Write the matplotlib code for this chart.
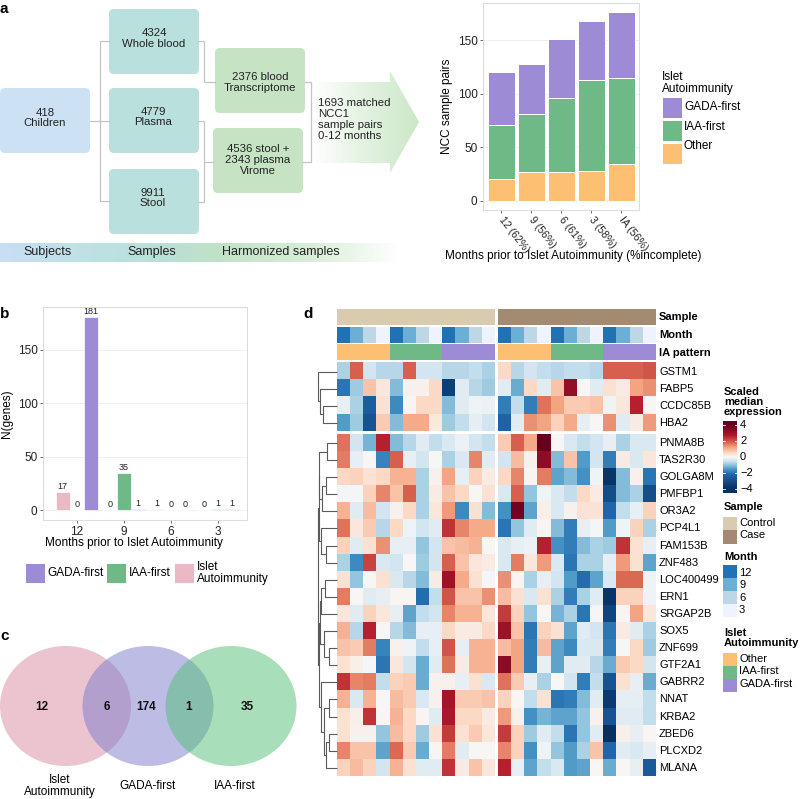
import numpy as np
import matplotlib
matplotlib.use("Agg")
import matplotlib.pyplot as plt
from matplotlib.patches import FancyBboxPatch, Polygon, Ellipse, Rectangle
from matplotlib.colors import LinearSegmentedColormap, Normalize, to_rgb

plt.rcParams["font.family"] = ["Liberation Sans", "DejaVu Sans"]

FW, FH = 800, 799

C_GADA = "#9d8bd5"
C_IAA = "#6fb987"
C_OTHER = "#fdbf72"
C_IA = "#eab9c5"

# ---------------- data ----------------
# panel a, flow chart
flow_children = "418\nChildren"
flow_samples = ["4324\nWhole blood", "4779\nPlasma", "9911\nStool"]
flow_harmonized = ["2376 blood\nTranscriptome", "4536 stool +\n2343 plasma\nVirome"]
flow_matched = "1693 matched\nNCC1\nsample pairs\n0-12 months"
flow_stages = ["Subjects", "Samples", "Harmonized samples"]

# panel a, stacked bars
a_months = ["12 (62%)", "9 (56%)", "6 (61%)", "3 (58%)", "IA (56%)"]
a_other = [20, 27, 27, 28, 34]
a_iaa = [51, 54, 69, 85, 81]
a_gada = [49, 47, 55, 55, 61]

# panel b
b_months = ["12", "9", "6", "3"]
b_ia = [17, 0, 1, 0]
b_iaa = [0, 35, 0, 1]
b_gada = [181, 1, 0, 1]

# panel c (IA only, IA&GADA, GADA only, GADA&IAA, IAA only)
venn_sets = ["Islet\nAutoimmunity", "GADA-first", "IAA-first"]
venn_counts = [12, 6, 174, 1, 35]

# panel d
genes = ["GSTM1", "FABP5", "CCDC85B", "HBA2", "PNMA8B", "TAS2R30", "GOLGA8M",
         "PMFBP1", "OR3A2", "PCP4L1", "FAM153B", "ZNF483", "LOC400499", "ERN1",
         "SRGAP2B", "SOX5", "ZNF699", "GTF2A1", "GABRR2", "NNAT", "KRBA2",
         "ZBED6", "PLCXD2", "MLANA"]
expr_control = [
    [-0.8, 1.9, -0.5, -0.7, -0.7, 1.9, -0.5, -0.5, -0.7, -0.7, -0.6, -0.8],
    [-2.0, -0.9, 0.8, 0.3, -1.1, 0.1, 0.1, 0.5, -3.5, -0.3, -0.7, -0.9],
    [-0.2, -0.8, -2.5, 0.4, -1.7, 0.05, 0.5, 0.5, -1.1, -0.3, -0.1, -0.15],
    [-1.5, -0.9, -2.8, 0.7, -1.1, 1.1, 1.1, 0.25, -0.9, -0.6, -0.25, -0.5],
    [1.7, -0.5, -1.2, 2.6, -1.1, -0.7, -0.3, -0.6, -0.4, -0.15, -0.5, -0.6],
    [1.6, -0.2, 0.0, -1.8, 1.9, -0.2, -0.5, 0.0, -0.8, -0.4, 1.5, -0.3],
    [0.5, 0.6, 0.35, 0.5, 1.0, 1.0, -0.8, 0.1, 1.2, -0.2, 0.6, 0.2],
    [-0.05, -0.05, 0.6, 1.5, 0.8, 1.9, -0.8, 0.2, 0.8, 0.5, 0.0, 0.4],
    [1.0, -0.3, 0.9, -0.5, 0.1, 0.5, -0.8, 0.3, 1.3, -1.7, 0.4, -1.1],
    [1.7, 0.3, 0.7, -0.7, 0.5, -0.1, -0.5, -0.3, 2.4, 1.5, 1.1, 1.1],
    [0.6, -0.3, 0.4, 1.4, -0.2, -0.2, -1.0, -0.5, 0.8, 0.9, 1.0, 0.0],
    [-0.8, -1.7, 2.2, -0.4, -0.5, 0.0, -0.9, -0.5, 1.9, 0.8, 0.3, 0.2],
    [0.4, -1.0, 0.0, 0.4, -0.4, -0.7, -1.1, 0.2, 3.0, 1.1, 0.4, -0.05],
    [1.6, 0.0, -0.3, -0.2, 0.05, 0.05, -2.1, -0.6, 2.0, 0.8, 0.8, 1.4],
    [0.3, -0.3, 0.6, 0.3, -0.2, -1.4, -0.6, -0.5, 1.5, 1.0, 1.0, 0.3],
    [1.0, -0.7, 2.6, 0.0, -0.7, -1.1, -0.2, -0.2, 0.5, 0.2, 0.2, 0.5],
    [0.8, 0.7, 1.6, -1.8, 0.1, -0.1, -0.6, -0.2, 2.0, -0.2, 1.0, 1.0],
    [0.4, 0.15, -0.05, -2.0, 0.3, -0.5, -1.3, -0.3, 1.7, 0.2, 1.0, 1.0],
    [2.4, 1.5, 1.6, -0.6, 0.6, 0.7, -1.3, 0.1, 0.1, -0.2, 0.4, -0.4],
    [1.0, -0.4, 1.0, 0.0, 0.9, 0.7, -0.4, 0.1, 2.9, 0.7, 0.7, 0.8],
    [0.4, 0.15, 2.4, 0.0, 1.0, 0.5, 0.05, -0.3, 2.8, 0.5, 0.5, 0.2],
    [0.4, 0.1, 0.1, -1.0, 0.9, 0.5, -0.9, 0.4, 2.3, 0.4, 0.7, 0.3],
    [1.5, 0.8, 0.8, -1.4, 1.8, 0.7, -1.3, 0.05, 1.6, -0.3, 0.0, 0.0],
    [0.6, 0.9, 0.6, -0.5, 1.0, 0.4, -0.3, -0.3, 2.4, 0.2, 0.8, 0.3],
]
expr_case = [
    [0.5, -0.7, -0.5, -0.6, -0.7, -0.6, -0.6, -0.7, 1.9, 1.9, 1.9, 2.0],
    [-0.3, -1.3, 0.5, -0.3, 0.8, 3.2, 0.0, -0.3, 0.4, 0.2, 1.2, 1.4],
    [-1.9, -0.6, -1.9, 1.7, 1.2, 0.7, 0.7, 0.8, -0.1, 0.3, 2.6, 0.0],
    [-2.3, -0.3, 1.4, 1.2, 0.6, 1.1, -0.2, 0.0, 1.4, -0.3, 0.2, 1.3],
    [0.7, 1.9, 1.1, 4.0, 0.0, -0.4, -0.6, -0.5, -0.2, -0.8, -0.4, -0.4],
    [-0.5, 0.9, 0.1, 3.3, -1.1, 0.8, -1.5, -0.5, -1.9, 0.2, -0.4, 0.3],
    [0.5, 1.5, 0.05, 1.6, -1.4, -1.1, -1.6, -0.1, -3.8, -1.1, 0.1, -2.0],
    [-0.4, 1.9, -1.0, -0.1, -0.4, -0.6, 0.5, 0.2, -3.0, -1.1, -0.8, -3.0],
    [-1.6, 3.8, -1.4, 0.15, -0.4, 0.1, 0.35, 0.35, -2.2, -0.6, -0.2, 0.6],
    [-2.0, -1.0, -0.3, 0.05, -1.1, -1.9, -0.2, -0.05, -1.5, -0.1, 0.6, -0.8],
    [-0.4, -0.2, -0.15, 2.6, -1.6, -1.9, -1.1, -0.8, -0.9, 2.4, 0.4, -0.2],
    [-0.4, 1.6, 0.3, 1.3, -0.4, -2.0, -0.8, -0.8, -0.2, 1.3, 0.4, -1.4],
    [1.4, 0.05, -0.8, -0.2, -0.5, -1.5, -2.1, -1.4, -0.4, 1.8, 1.8, -0.1],
    [0.9, 0.4, -0.4, 0.4, -0.8, -1.9, -0.8, -0.3, -3.8, 0.6, 0.6, -0.1],
    [2.3, 0.6, -1.0, 0.0, -1.2, -0.8, -2.0, -0.05, -3.3, 0.05, 1.2, 0.3],
    [3.0, 0.8, -2.0, 0.6, 0.4, -1.4, -0.3, -0.5, -2.0, 0.2, -0.3, -0.8],
    [0.9, 1.2, -1.9, 0.9, -1.4, -1.7, -0.4, -0.4, -1.9, 0.0, 0.5, -0.9],
    [3.4, 1.2, -1.9, -0.2, -1.4, -0.3, -0.3, -0.7, -1.3, 0.7, 0.5, -0.5],
    [1.7, 0.7, -0.2, -0.8, 0.0, -0.5, -1.9, -0.6, -2.8, 0.4, -0.2, -1.3],
    [0.6, 0.0, -0.6, 0.4, -2.0, -1.9, -1.1, -0.3, -3.6, -0.25, -0.25, -0.6],
    [1.3, 0.1, -1.6, -1.2, -1.4, -1.4, -1.0, 0.1, -2.8, -0.3, -0.3, -0.6],
    [2.3, 0.6, -0.9, -0.3, -0.6, -2.0, -1.0, -0.3, -4.0, 0.15, -0.2, 0.0],
    [1.5, 0.6, -1.6, -0.1, -1.0, -1.5, -0.8, 0.8, -2.2, -0.3, -0.4, -0.2],
    [2.6, -0.2, -1.4, -0.6, -0.4, -1.5, -1.4, 0.0, -1.3, 0.0, -0.2, -2.6],
]
col_month = [12, 9, 6, 3] * 3
col_pattern = ["Other"] * 4 + ["IAA-first"] * 4 + ["GADA-first"] * 4
row_split = 4  # first 4 genes form the upper slice

# row dendrograms: [left, right, height]
tree_top = [0, [1, [2, 3, 0.70], 0.91], 1.0]
tree_bottom = [
    [[[4, 5, 0.47], [[6, 7, 0.56], 8, 0.79], 0.93], [9, [10, 11, 0.56], 0.82], 0.96],
    [[[[12, 13, 0.61], 14, 0.82], [15, [16, 17, 0.39], 0.65], 0.91],
     [18, [[19, 20, 0.39], [[21, 22, 0.39], 23, 0.56], 0.68], 0.82], 0.95],
    1.0]

month_colors = {12: "#2171b5", 9: "#6baed6", 6: "#bdd7e7", 3: "#eff3ff"}
pattern_colors = {"Other": C_OTHER, "IAA-first": C_IAA, "GADA-first": C_GADA}
sample_colors = {"Control": "#d9cbb0", "Case": "#a58a73"}

heat_anchors = [(-4.0, "#053061"), (-2.2, "#2166ac"), (-1.6, "#4393c3"),
                (-1.0, "#92c5de"), (-0.5, "#d1e5f0"), (0.0, "#f7f7f7"),
                (0.5, "#fddbc7"), (1.2, "#f4a582"), (1.9, "#d6604d"),
                (2.7, "#b2182b"), (4.0, "#67001f")]
heat_cmap = LinearSegmentedColormap.from_list(
    "heat", [((v + 4) / 8, c) for v, c in heat_anchors])
heat_norm = Normalize(-4, 4)


def rect(x0, y0, x1, y1):
    return [x0 / FW, 1 - y1 / FH, (x1 - x0) / FW, (y1 - y0) / FH]


def gg_style(ax):
    for s in ax.spines.values():
        s.set_color("#dcdcdc")
        s.set_linewidth(0.8)
    ax.grid(axis="y", color="#ececec", lw=0.6)
    ax.set_axisbelow(True)
    ax.tick_params(length=2.5, width=0.6, color="#555555", labelsize=8.5,
                   labelcolor="#222222", pad=1.5)


fig = plt.figure(figsize=(FW / 100, FH / 100), dpi=100)
ov = fig.add_axes([0, 0, 1, 1])
ov.axis("off")

# ---------------- panel a: flow chart ----------------
boxes = [((0, 88, 90, 153), "#cde1f5", flow_children, (45, 118)),
         ((109, 9, 199, 74), "#b9e0dc", flow_samples[0], (154, 38.5)),
         ((109, 88, 199, 153), "#b9e0dc", flow_samples[1], (153, 117)),
         ((109, 169, 199, 234), "#b9e0dc", flow_samples[2], (153, 198)),
         ((215, 48, 305, 113), "#c6e3c4", flow_harmonized[0], (260, 82.5)),
         ((213, 128, 303, 193), "#c6e3c4", flow_harmonized[1], (258, 160))]
for (x0, y0, x1, y1), fc, txt, (tx, ty) in boxes:
    ov.add_patch(FancyBboxPatch((x0, y0), x1 - x0, y1 - y0,
                                boxstyle="round,pad=0,rounding_size=5",
                                fc=fc, ec="none"))
    ov.text(tx, ty, txt, ha="center", va="center", fontsize=8.2,
            linespacing=1.1, color="#222222")

line_kw = dict(color="#c4c4c4", lw=0.9)
ov.plot([90, 100], [120.5, 120.5], **line_kw)
ov.plot([109, 100, 100, 109], [41, 41, 201, 201], **line_kw)
ov.plot([100, 109], [120.5, 120.5], **line_kw)
ov.plot([199, 204, 204, 215], [41, 41, 82, 82], **line_kw)
ov.plot([199, 204, 204, 199], [121, 121, 202, 202], **line_kw)
ov.plot([204, 213], [162, 162], **line_kw)
ov.plot([305, 311, 311, 303], [82, 82, 162, 162], **line_kw)

arrow = Polygon([(312, 82), (390, 82), (390, 71), (419, 122), (390, 173),
                 (390, 163), (312, 163)], closed=True, fc="none", ec="none")
ov.add_patch(arrow)
grad_arrow = LinearSegmentedColormap.from_list("ga", ["#ffffff", "#e3f2e1", "#cbe7c7"])
im = ov.imshow(np.linspace(0, 1, 256)[None, :], cmap=grad_arrow, aspect="auto",
               extent=(312, 419, 173, 71), interpolation="bilinear")
im.set_clip_path(arrow)
ov.text(318, 119.5, flow_matched, ha="left", va="center", fontsize=8.2,
        linespacing=1.15, color="#222222")

grad_bar = LinearSegmentedColormap.from_list(
    "gb", [(0, "#c9def5"), (0.2, "#bfe2e6"), (0.4, "#b8e0d8"),
           (0.55, "#c1e2c6"), (0.78, "#d9eed8"), (1.0, "#ffffff")])
ov.imshow(np.linspace(0, 1, 256)[None, :], cmap=grad_bar, aspect="auto",
          extent=(0, 400, 262, 243), interpolation="bilinear")
for txt, x in zip(flow_stages, [47.5, 152, 281]):
    ov.text(x, 252.5, txt, ha="center", va="center", fontsize=9, color="#222222")

# ---------------- panel a: stacked bars ----------------
axa = fig.add_axes(rect(483, 3, 639, 210))
xa = np.arange(1, len(a_months) + 1)
axa.bar(xa, a_other, 0.9, color=C_OTHER, edgecolor="white", lw=0.7)
axa.bar(xa, a_iaa, 0.9, bottom=a_other, color=C_IAA, edgecolor="white", lw=0.7)
axa.bar(xa, a_gada, 0.9, bottom=np.add(a_other, a_iaa), color=C_GADA,
        edgecolor="white", lw=0.7)
axa.set_xlim(0.4, 5.6)
axa.set_ylim(-8.8, 184.8)
axa.set_yticks([0, 50, 100, 150])
axa.set_xticks(xa)
axa.set_xticklabels(a_months, rotation=-52, ha="left", va="center",
                    rotation_mode="anchor", fontsize=7.6)
gg_style(axa)
axa.tick_params(axis="x", pad=3, labelsize=7.6)
axa.set_ylabel("NCC sample pairs", fontsize=8.5, labelpad=3)
ov.text(573, 256, "Months prior to Islet Autoimmunity (%incomplete)",
        ha="center", va="center", fontsize=8.5)

ov.text(662, 83, "Islet\nAutoimmunity", ha="left", va="center", fontsize=8.5,
        linespacing=1.1)
for i, (lab, col) in enumerate(zip(["GADA-first", "IAA-first", "Other"],
                                   [C_GADA, C_IAA, C_OTHER])):
    ov.add_patch(Rectangle((662, 97 + 23 * i), 20, 21, fc=col, ec="white", lw=0.7))
    ov.text(684, 107 + 19.5 * i, lab, ha="left", va="center", fontsize=8.5)

# ---------------- panel b ----------------
axb = fig.add_axes(rect(43, 307, 247, 520))
xb = np.arange(1, len(b_months) + 1)
for off, vals, col in [(-0.3, b_ia, C_IA), (0.0, b_iaa, C_IAA), (0.3, b_gada, C_GADA)]:
    axb.bar(xb + off, vals, 0.3, color=col, edgecolor="white", lw=0.5)
    for x, v in zip(xb + off, vals):
        axb.text(x, v + 0.8, str(v), ha="center", va="bottom", fontsize=6.5,
                 color="#222222")
axb.set_xlim(0.28, 4.62)
axb.set_ylim(-9.05, 190.05)
axb.set_yticks([0, 50, 100, 150])
axb.set_xticks(xb)
axb.set_xticklabels(b_months)
gg_style(axb)
axb.set_ylabel("N(genes)", fontsize=8.5, labelpad=3)
ov.text(134, 543, "Months prior to Islet Autoimmunity", ha="center",
        va="center", fontsize=8.5)
for lab, col, x in [("GADA-first", C_GADA, 25), ("IAA-first", C_IAA, 106),
                    ("Islet\nAutoimmunity", C_IA, 174)]:
    ov.add_patch(Rectangle((x, 563), 20, 20, fc=col, ec="white", lw=0.7))
    ov.text(x + 22.5, 573, lab, ha="left", va="center", fontsize=8.5,
            linespacing=1.0)

# ---------------- panel c: venn ----------------
venn_geom = [(65.5, "#db8ba1"), (148, "#7b7bcd"), (231, "#53bf77")]
for cx, fc in venn_geom:
    ov.add_patch(Ellipse((cx, 706), 131, 120, fc=fc, ec="none", alpha=0.5))
for cnt, x in zip(venn_counts, [42, 107, 146, 189, 247]):
    ov.text(x, 707, str(cnt), ha="center", va="center", fontsize=8.5,
            fontweight="bold", color="#111111")
for lab, x in zip(venn_sets, [60, 147, 235]):
    ov.text(x, 786, lab, ha="center", va="center", fontsize=8.5, linespacing=1.0)

# ---------------- panel d: heatmap ----------------
n_rows = len(genes)
rh = 17.1
cw = 13.15
col_x0 = [337, 497.8]
row_y0 = [363, 363 + row_split * rh + 3]
row_centers = []
for r in range(n_rows):
    if r < row_split:
        row_centers.append(row_y0[0] + (r + 0.5) * rh)
    else:
        row_centers.append(row_y0[1] + (r - row_split + 0.5) * rh)

blocks = [np.array(expr_control), np.array(expr_case)]
for b, mat in enumerate(blocks):
    x0, x1 = col_x0[b], col_x0[b] + 12 * cw
    for g, (r0, r1) in enumerate([(0, row_split), (row_split, n_rows)]):
        y0 = row_y0[g]
        y1 = y0 + (r1 - r0) * rh
        ov.imshow(mat[r0:r1], cmap=heat_cmap, norm=heat_norm, aspect="auto",
                  extent=(x0, x1, y1, y0), interpolation="nearest")
    # top annotations
    samp = ["Control", "Case"][b]
    ann = [[to_rgb(sample_colors[samp])] * 12,
           [to_rgb(month_colors[m]) for m in col_month],
           [to_rgb(pattern_colors[p]) for p in col_pattern]]
    for k, (ya, yb) in enumerate([(309, 325), (327, 343), (344.5, 360.5)]):
        ov.imshow(np.array([ann[k]]), aspect="auto", extent=(x0, x1, yb, ya),
                  interpolation="nearest")

for lab, y in zip(["Sample", "Month", "IA pattern"], [317, 335, 352.5]):
    ov.text(659, y, lab, ha="left", va="center", fontsize=8, fontweight="bold")
for gname, y in zip(genes, row_centers):
    ov.text(659, y, gname, ha="left", va="center", fontsize=8)


def draw_tree(node, x_right=335.5, width=17.5):
    if isinstance(node, int):
        return row_centers[node], x_right + 1
    left, right, h = node
    yl, xl = draw_tree(left, x_right, width)
    yr, xr = draw_tree(right, x_right, width)
    xn = x_right - h * width
    ov.plot([xl, xn, xn, xr], [yl, yl, yr, yr], color="#5a5a5a", lw=0.8,
            solid_capstyle="butt")
    return (yl + yr) / 2, xn


draw_tree(tree_top)
draw_tree(tree_bottom)

# heatmap legends
ov.text(724, 402, "Scaled\nmedian\nexpression", ha="left", va="center",
        fontsize=8, fontweight="bold", linespacing=1.05)
ov.imshow(np.linspace(4.5, -4.5, 200)[:, None], cmap=heat_cmap, norm=heat_norm,
          aspect="auto", extent=(723, 737, 493, 421), interpolation="bilinear")
for v in [4, 2, 0, -2, -4]:
    yv = 457 - 8 * v
    ov.plot([723, 725], [yv, yv], color="white", lw=0.6)
    ov.plot([735, 737], [yv, yv], color="white", lw=0.6)
    ov.text(740, yv, f"{v}".replace("-", "\u2212"), ha="left", va="center", fontsize=8)

ov.text(724, 507, "Sample", ha="left", va="center", fontsize=8, fontweight="bold")
for i, lab in enumerate(["Control", "Case"]):
    ov.add_patch(Rectangle((723, 517 + 13.3 * i), 14, 13.3, fc=sample_colors[lab], ec="none"))
    ov.text(739, 523 + 12.5 * i, lab, ha="left", va="center", fontsize=8)

ov.text(724, 557, "Month", ha="left", va="center", fontsize=8, fontweight="bold")
for i, m in enumerate([12, 9, 6, 3]):
    ov.add_patch(Rectangle((723, 564.5 + 13.2 * i), 14, 13.2, fc=month_colors[m], ec="none"))
    ov.text(739, 573 + 12.3 * i, str(m), ha="left", va="center", fontsize=8)

ov.text(724, 638, "Islet\nAutoimmunity", ha="left", va="center", fontsize=8,
        fontweight="bold", linespacing=1.0)
for i, p in enumerate(["Other", "IAA-first", "GADA-first"]):
    ov.add_patch(Rectangle((723, 652.5 + 13 * i), 14, 13, fc=pattern_colors[p], ec="none"))
    ov.text(739, 659 + 12.5 * i, p, ha="left", va="center", fontsize=8)

# panel letters
for lab, x, y in [("a", 0, 9), ("b", 0, 314), ("c", 0, 636), ("d", 303, 314)]:
    ov.text(x, y, lab, ha="left", va="center", fontsize=11, fontweight="bold")

ov.set_xlim(0, FW)
ov.set_ylim(FH, 0)
fig.savefig("out.png", dpi=100)
